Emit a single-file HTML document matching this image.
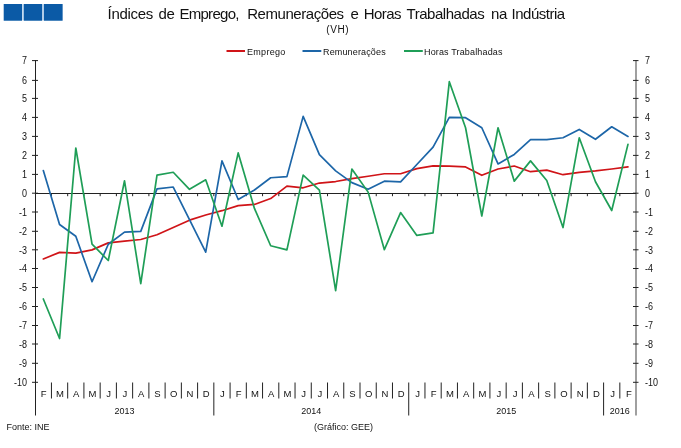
<!DOCTYPE html><html><head><meta charset="utf-8"><style>html,body{margin:0;padding:0;background:#fff;}svg{display:block;}text{font-family:"Liberation Sans",Arial,sans-serif;fill:#111;}</style></head><body>
<svg width="681" height="448" viewBox="0 0 681 448">
<rect x="4" y="4.2" width="58.4" height="16.2" fill="#c4daf0"/>
<rect x="3.7" y="4" width="18.3" height="16.7" fill="#0b5aa6"/>
<rect x="23.8" y="4" width="18.3" height="16.7" fill="#0b5aa6"/>
<rect x="43.9" y="4" width="18.7" height="16.7" fill="#0b5aa6"/>
<text y="19" font-size="15" fill="#151515"><tspan x="107.5" letter-spacing="-0.28">Índices </tspan><tspan x="158.6" letter-spacing="-0.45">de </tspan><tspan x="179.4" letter-spacing="-0.71">Emprego, </tspan><tspan x="247.2" letter-spacing="-0.44">Remunerações </tspan><tspan x="350.6" letter-spacing="-0.45">e </tspan><tspan x="363.8" letter-spacing="-0.6">Horas </tspan><tspan x="406.5" letter-spacing="-0.47">Trabalhadas </tspan><tspan x="491.0" letter-spacing="-0.45">na </tspan><tspan x="511.6" letter-spacing="-0.49">Indústria</tspan></text>
<text x="326.3" y="32.6" font-size="10" letter-spacing="0.6">(VH)</text>
<line x1="226.5" y1="51" x2="245" y2="51" stroke="#d01418" stroke-width="2"/>
<text x="247" y="55" font-size="9" letter-spacing="0.3">Emprego</text>
<line x1="302.5" y1="51" x2="321.3" y2="51" stroke="#1d66a8" stroke-width="2"/>
<text x="323" y="55" font-size="9" letter-spacing="0.15">Remunerações</text>
<line x1="404" y1="51" x2="422.8" y2="51" stroke="#1f9e57" stroke-width="2"/>
<text x="424" y="55" font-size="9" letter-spacing="0.15">Horas Trabalhadas</text>
<line x1="35.5" y1="60" x2="35.5" y2="415.5" stroke="#222" stroke-width="1"/>
<line x1="636.0" y1="60" x2="636.0" y2="415.5" stroke="#888" stroke-width="1.6"/>
<line x1="35.5" y1="193.5" x2="636.0" y2="193.5" stroke="#222" stroke-width="1"/>
<line x1="51.44" y1="193.5" x2="51.44" y2="196.2" stroke="#222" stroke-width="1"/>
<line x1="67.68" y1="193.5" x2="67.68" y2="196.2" stroke="#222" stroke-width="1"/>
<line x1="83.92" y1="193.5" x2="83.92" y2="196.2" stroke="#222" stroke-width="1"/>
<line x1="100.16" y1="193.5" x2="100.16" y2="196.2" stroke="#222" stroke-width="1"/>
<line x1="116.4" y1="193.5" x2="116.4" y2="196.2" stroke="#222" stroke-width="1"/>
<line x1="132.64" y1="193.5" x2="132.64" y2="196.2" stroke="#222" stroke-width="1"/>
<line x1="148.88" y1="193.5" x2="148.88" y2="196.2" stroke="#222" stroke-width="1"/>
<line x1="165.12" y1="193.5" x2="165.12" y2="196.2" stroke="#222" stroke-width="1"/>
<line x1="181.36" y1="193.5" x2="181.36" y2="196.2" stroke="#222" stroke-width="1"/>
<line x1="197.6" y1="193.5" x2="197.6" y2="196.2" stroke="#222" stroke-width="1"/>
<line x1="213.84" y1="193.5" x2="213.84" y2="196.2" stroke="#222" stroke-width="1"/>
<line x1="230.08" y1="193.5" x2="230.08" y2="196.2" stroke="#222" stroke-width="1"/>
<line x1="246.32" y1="193.5" x2="246.32" y2="196.2" stroke="#222" stroke-width="1"/>
<line x1="262.56" y1="193.5" x2="262.56" y2="196.2" stroke="#222" stroke-width="1"/>
<line x1="278.8" y1="193.5" x2="278.8" y2="196.2" stroke="#222" stroke-width="1"/>
<line x1="295.04" y1="193.5" x2="295.04" y2="196.2" stroke="#222" stroke-width="1"/>
<line x1="311.28" y1="193.5" x2="311.28" y2="196.2" stroke="#222" stroke-width="1"/>
<line x1="327.52" y1="193.5" x2="327.52" y2="196.2" stroke="#222" stroke-width="1"/>
<line x1="343.76" y1="193.5" x2="343.76" y2="196.2" stroke="#222" stroke-width="1"/>
<line x1="360.0" y1="193.5" x2="360.0" y2="196.2" stroke="#222" stroke-width="1"/>
<line x1="376.24" y1="193.5" x2="376.24" y2="196.2" stroke="#222" stroke-width="1"/>
<line x1="392.48" y1="193.5" x2="392.48" y2="196.2" stroke="#222" stroke-width="1"/>
<line x1="408.72" y1="193.5" x2="408.72" y2="196.2" stroke="#222" stroke-width="1"/>
<line x1="424.96" y1="193.5" x2="424.96" y2="196.2" stroke="#222" stroke-width="1"/>
<line x1="441.2" y1="193.5" x2="441.2" y2="196.2" stroke="#222" stroke-width="1"/>
<line x1="457.44" y1="193.5" x2="457.44" y2="196.2" stroke="#222" stroke-width="1"/>
<line x1="473.68" y1="193.5" x2="473.68" y2="196.2" stroke="#222" stroke-width="1"/>
<line x1="489.92" y1="193.5" x2="489.92" y2="196.2" stroke="#222" stroke-width="1"/>
<line x1="506.16" y1="193.5" x2="506.16" y2="196.2" stroke="#222" stroke-width="1"/>
<line x1="522.4" y1="193.5" x2="522.4" y2="196.2" stroke="#222" stroke-width="1"/>
<line x1="538.64" y1="193.5" x2="538.64" y2="196.2" stroke="#222" stroke-width="1"/>
<line x1="554.88" y1="193.5" x2="554.88" y2="196.2" stroke="#222" stroke-width="1"/>
<line x1="571.12" y1="193.5" x2="571.12" y2="196.2" stroke="#222" stroke-width="1"/>
<line x1="587.36" y1="193.5" x2="587.36" y2="196.2" stroke="#222" stroke-width="1"/>
<line x1="603.6" y1="193.5" x2="603.6" y2="196.2" stroke="#222" stroke-width="1"/>
<line x1="619.84" y1="193.5" x2="619.84" y2="196.2" stroke="#222" stroke-width="1"/>
<line x1="32" y1="60.6" x2="38" y2="60.6" stroke="#222" stroke-width="1"/>
<line x1="633" y1="60.6" x2="638.5" y2="60.6" stroke="#222" stroke-width="1"/>
<text transform="translate(27 64.3) scale(1 1.15)" font-size="9" text-anchor="end">7</text>
<text transform="translate(645 64.3) scale(1 1.15)" font-size="9">7</text>
<line x1="32" y1="80.4" x2="38" y2="80.4" stroke="#222" stroke-width="1"/>
<line x1="633" y1="80.4" x2="638.5" y2="80.4" stroke="#222" stroke-width="1"/>
<text transform="translate(27 84.1) scale(1 1.15)" font-size="9" text-anchor="end">6</text>
<text transform="translate(645 84.1) scale(1 1.15)" font-size="9">6</text>
<line x1="32" y1="98.4" x2="38" y2="98.4" stroke="#222" stroke-width="1"/>
<line x1="633" y1="98.4" x2="638.5" y2="98.4" stroke="#222" stroke-width="1"/>
<text transform="translate(27 102.1) scale(1 1.15)" font-size="9" text-anchor="end">5</text>
<text transform="translate(645 102.1) scale(1 1.15)" font-size="9">5</text>
<line x1="32" y1="117.4" x2="38" y2="117.4" stroke="#222" stroke-width="1"/>
<line x1="633" y1="117.4" x2="638.5" y2="117.4" stroke="#222" stroke-width="1"/>
<text transform="translate(27 121.1) scale(1 1.15)" font-size="9" text-anchor="end">4</text>
<text transform="translate(645 121.1) scale(1 1.15)" font-size="9">4</text>
<line x1="32" y1="136.4" x2="38" y2="136.4" stroke="#222" stroke-width="1"/>
<line x1="633" y1="136.4" x2="638.5" y2="136.4" stroke="#222" stroke-width="1"/>
<text transform="translate(27 140.1) scale(1 1.15)" font-size="9" text-anchor="end">3</text>
<text transform="translate(645 140.1) scale(1 1.15)" font-size="9">3</text>
<line x1="32" y1="155.4" x2="38" y2="155.4" stroke="#222" stroke-width="1"/>
<line x1="633" y1="155.4" x2="638.5" y2="155.4" stroke="#222" stroke-width="1"/>
<text transform="translate(27 159.1) scale(1 1.15)" font-size="9" text-anchor="end">2</text>
<text transform="translate(645 159.1) scale(1 1.15)" font-size="9">2</text>
<line x1="32" y1="174.4" x2="38" y2="174.4" stroke="#222" stroke-width="1"/>
<line x1="633" y1="174.4" x2="638.5" y2="174.4" stroke="#222" stroke-width="1"/>
<text transform="translate(27 178.1) scale(1 1.15)" font-size="9" text-anchor="end">1</text>
<text transform="translate(645 178.1) scale(1 1.15)" font-size="9">1</text>
<line x1="32" y1="193.2" x2="38" y2="193.2" stroke="#222" stroke-width="1"/>
<line x1="633" y1="193.2" x2="638.5" y2="193.2" stroke="#222" stroke-width="1"/>
<text transform="translate(27 196.9) scale(1 1.15)" font-size="9" text-anchor="end">0</text>
<text transform="translate(645 196.9) scale(1 1.15)" font-size="9">0</text>
<line x1="32" y1="212.0" x2="38" y2="212.0" stroke="#222" stroke-width="1"/>
<line x1="633" y1="212.0" x2="638.5" y2="212.0" stroke="#222" stroke-width="1"/>
<text transform="translate(27 215.7) scale(1 1.15)" font-size="9" text-anchor="end">-1</text>
<text transform="translate(645 215.7) scale(1 1.15)" font-size="9">-1</text>
<line x1="32" y1="231.3" x2="38" y2="231.3" stroke="#222" stroke-width="1"/>
<line x1="633" y1="231.3" x2="638.5" y2="231.3" stroke="#222" stroke-width="1"/>
<text transform="translate(27 235.0) scale(1 1.15)" font-size="9" text-anchor="end">-2</text>
<text transform="translate(645 235.0) scale(1 1.15)" font-size="9">-2</text>
<line x1="32" y1="249.8" x2="38" y2="249.8" stroke="#222" stroke-width="1"/>
<line x1="633" y1="249.8" x2="638.5" y2="249.8" stroke="#222" stroke-width="1"/>
<text transform="translate(27 253.5) scale(1 1.15)" font-size="9" text-anchor="end">-3</text>
<text transform="translate(645 253.5) scale(1 1.15)" font-size="9">-3</text>
<line x1="32" y1="268.5" x2="38" y2="268.5" stroke="#222" stroke-width="1"/>
<line x1="633" y1="268.5" x2="638.5" y2="268.5" stroke="#222" stroke-width="1"/>
<text transform="translate(27 272.2) scale(1 1.15)" font-size="9" text-anchor="end">-4</text>
<text transform="translate(645 272.2) scale(1 1.15)" font-size="9">-4</text>
<line x1="32" y1="287.5" x2="38" y2="287.5" stroke="#222" stroke-width="1"/>
<line x1="633" y1="287.5" x2="638.5" y2="287.5" stroke="#222" stroke-width="1"/>
<text transform="translate(27 291.2) scale(1 1.15)" font-size="9" text-anchor="end">-5</text>
<text transform="translate(645 291.2) scale(1 1.15)" font-size="9">-5</text>
<line x1="32" y1="306.5" x2="38" y2="306.5" stroke="#222" stroke-width="1"/>
<line x1="633" y1="306.5" x2="638.5" y2="306.5" stroke="#222" stroke-width="1"/>
<text transform="translate(27 310.2) scale(1 1.15)" font-size="9" text-anchor="end">-6</text>
<text transform="translate(645 310.2) scale(1 1.15)" font-size="9">-6</text>
<line x1="32" y1="325.5" x2="38" y2="325.5" stroke="#222" stroke-width="1"/>
<line x1="633" y1="325.5" x2="638.5" y2="325.5" stroke="#222" stroke-width="1"/>
<text transform="translate(27 329.2) scale(1 1.15)" font-size="9" text-anchor="end">-7</text>
<text transform="translate(645 329.2) scale(1 1.15)" font-size="9">-7</text>
<line x1="32" y1="344.0" x2="38" y2="344.0" stroke="#222" stroke-width="1"/>
<line x1="633" y1="344.0" x2="638.5" y2="344.0" stroke="#222" stroke-width="1"/>
<text transform="translate(27 347.7) scale(1 1.15)" font-size="9" text-anchor="end">-8</text>
<text transform="translate(645 347.7) scale(1 1.15)" font-size="9">-8</text>
<line x1="32" y1="363.3" x2="38" y2="363.3" stroke="#222" stroke-width="1"/>
<line x1="633" y1="363.3" x2="638.5" y2="363.3" stroke="#222" stroke-width="1"/>
<text transform="translate(27 367.0) scale(1 1.15)" font-size="9" text-anchor="end">-9</text>
<text transform="translate(645 367.0) scale(1 1.15)" font-size="9">-9</text>
<line x1="32" y1="382.3" x2="38" y2="382.3" stroke="#222" stroke-width="1"/>
<line x1="633" y1="382.3" x2="638.5" y2="382.3" stroke="#222" stroke-width="1"/>
<text transform="translate(27 386.0) scale(1 1.15)" font-size="9" text-anchor="end">-10</text>
<text transform="translate(645 386.0) scale(1 1.15)" font-size="9">-10</text>
<line x1="51.44" y1="382.5" x2="51.44" y2="398.5" stroke="#222" stroke-width="1"/>
<line x1="67.68" y1="382.5" x2="67.68" y2="398.5" stroke="#222" stroke-width="1"/>
<line x1="83.92" y1="382.5" x2="83.92" y2="398.5" stroke="#222" stroke-width="1"/>
<line x1="100.16" y1="382.5" x2="100.16" y2="398.5" stroke="#222" stroke-width="1"/>
<line x1="116.4" y1="382.5" x2="116.4" y2="398.5" stroke="#222" stroke-width="1"/>
<line x1="132.64" y1="382.5" x2="132.64" y2="398.5" stroke="#222" stroke-width="1"/>
<line x1="148.88" y1="382.5" x2="148.88" y2="398.5" stroke="#222" stroke-width="1"/>
<line x1="165.12" y1="382.5" x2="165.12" y2="398.5" stroke="#222" stroke-width="1"/>
<line x1="181.36" y1="382.5" x2="181.36" y2="398.5" stroke="#222" stroke-width="1"/>
<line x1="197.6" y1="382.5" x2="197.6" y2="398.5" stroke="#222" stroke-width="1"/>
<line x1="213.84" y1="382.5" x2="213.84" y2="415.5" stroke="#222" stroke-width="1"/>
<line x1="230.08" y1="382.5" x2="230.08" y2="398.5" stroke="#222" stroke-width="1"/>
<line x1="246.32" y1="382.5" x2="246.32" y2="398.5" stroke="#222" stroke-width="1"/>
<line x1="262.56" y1="382.5" x2="262.56" y2="398.5" stroke="#222" stroke-width="1"/>
<line x1="278.8" y1="382.5" x2="278.8" y2="398.5" stroke="#222" stroke-width="1"/>
<line x1="295.04" y1="382.5" x2="295.04" y2="398.5" stroke="#222" stroke-width="1"/>
<line x1="311.28" y1="382.5" x2="311.28" y2="398.5" stroke="#222" stroke-width="1"/>
<line x1="327.52" y1="382.5" x2="327.52" y2="398.5" stroke="#222" stroke-width="1"/>
<line x1="343.76" y1="382.5" x2="343.76" y2="398.5" stroke="#222" stroke-width="1"/>
<line x1="360.0" y1="382.5" x2="360.0" y2="398.5" stroke="#222" stroke-width="1"/>
<line x1="376.24" y1="382.5" x2="376.24" y2="398.5" stroke="#222" stroke-width="1"/>
<line x1="392.48" y1="382.5" x2="392.48" y2="398.5" stroke="#222" stroke-width="1"/>
<line x1="408.72" y1="382.5" x2="408.72" y2="415.5" stroke="#222" stroke-width="1"/>
<line x1="424.96" y1="382.5" x2="424.96" y2="398.5" stroke="#222" stroke-width="1"/>
<line x1="441.2" y1="382.5" x2="441.2" y2="398.5" stroke="#222" stroke-width="1"/>
<line x1="457.44" y1="382.5" x2="457.44" y2="398.5" stroke="#222" stroke-width="1"/>
<line x1="473.68" y1="382.5" x2="473.68" y2="398.5" stroke="#222" stroke-width="1"/>
<line x1="489.92" y1="382.5" x2="489.92" y2="398.5" stroke="#222" stroke-width="1"/>
<line x1="506.16" y1="382.5" x2="506.16" y2="398.5" stroke="#222" stroke-width="1"/>
<line x1="522.4" y1="382.5" x2="522.4" y2="398.5" stroke="#222" stroke-width="1"/>
<line x1="538.64" y1="382.5" x2="538.64" y2="398.5" stroke="#222" stroke-width="1"/>
<line x1="554.88" y1="382.5" x2="554.88" y2="398.5" stroke="#222" stroke-width="1"/>
<line x1="571.12" y1="382.5" x2="571.12" y2="398.5" stroke="#222" stroke-width="1"/>
<line x1="587.36" y1="382.5" x2="587.36" y2="398.5" stroke="#222" stroke-width="1"/>
<line x1="603.6" y1="382.5" x2="603.6" y2="415.5" stroke="#222" stroke-width="1"/>
<line x1="619.84" y1="382.5" x2="619.84" y2="398.5" stroke="#222" stroke-width="1"/>
<text x="43.62" y="396.8" font-size="9.5" text-anchor="middle">F</text>
<text x="59.88" y="396.8" font-size="9.5" text-anchor="middle">M</text>
<text x="76.13" y="396.8" font-size="9.5" text-anchor="middle">A</text>
<text x="92.39" y="396.8" font-size="9.5" text-anchor="middle">M</text>
<text x="108.65" y="396.8" font-size="9.5" text-anchor="middle">J</text>
<text x="124.90" y="396.8" font-size="9.5" text-anchor="middle">J</text>
<text x="141.16" y="396.8" font-size="9.5" text-anchor="middle">A</text>
<text x="157.42" y="396.8" font-size="9.5" text-anchor="middle">S</text>
<text x="173.67" y="396.8" font-size="9.5" text-anchor="middle">O</text>
<text x="189.93" y="396.8" font-size="9.5" text-anchor="middle">N</text>
<text x="206.19" y="396.8" font-size="9.5" text-anchor="middle">D</text>
<text x="222.44" y="396.8" font-size="9.5" text-anchor="middle">J</text>
<text x="238.70" y="396.8" font-size="9.5" text-anchor="middle">F</text>
<text x="254.96" y="396.8" font-size="9.5" text-anchor="middle">M</text>
<text x="271.21" y="396.8" font-size="9.5" text-anchor="middle">A</text>
<text x="287.47" y="396.8" font-size="9.5" text-anchor="middle">M</text>
<text x="303.73" y="396.8" font-size="9.5" text-anchor="middle">J</text>
<text x="319.98" y="396.8" font-size="9.5" text-anchor="middle">J</text>
<text x="336.24" y="396.8" font-size="9.5" text-anchor="middle">A</text>
<text x="352.50" y="396.8" font-size="9.5" text-anchor="middle">S</text>
<text x="368.75" y="396.8" font-size="9.5" text-anchor="middle">O</text>
<text x="385.01" y="396.8" font-size="9.5" text-anchor="middle">N</text>
<text x="401.27" y="396.8" font-size="9.5" text-anchor="middle">D</text>
<text x="417.52" y="396.8" font-size="9.5" text-anchor="middle">J</text>
<text x="433.78" y="396.8" font-size="9.5" text-anchor="middle">F</text>
<text x="450.04" y="396.8" font-size="9.5" text-anchor="middle">M</text>
<text x="466.29" y="396.8" font-size="9.5" text-anchor="middle">A</text>
<text x="482.55" y="396.8" font-size="9.5" text-anchor="middle">M</text>
<text x="498.81" y="396.8" font-size="9.5" text-anchor="middle">J</text>
<text x="515.06" y="396.8" font-size="9.5" text-anchor="middle">J</text>
<text x="531.32" y="396.8" font-size="9.5" text-anchor="middle">A</text>
<text x="547.58" y="396.8" font-size="9.5" text-anchor="middle">S</text>
<text x="563.83" y="396.8" font-size="9.5" text-anchor="middle">O</text>
<text x="580.09" y="396.8" font-size="9.5" text-anchor="middle">N</text>
<text x="596.35" y="396.8" font-size="9.5" text-anchor="middle">D</text>
<text x="612.60" y="396.8" font-size="9.5" text-anchor="middle">J</text>
<text x="628.86" y="396.8" font-size="9.5" text-anchor="middle">F</text>
<text transform="translate(124.52 414) scale(1 1.1)" font-size="9" text-anchor="middle">2013</text>
<text transform="translate(311.28 414) scale(1 1.1)" font-size="9" text-anchor="middle">2014</text>
<text transform="translate(506.16 414) scale(1 1.1)" font-size="9" text-anchor="middle">2015</text>
<text transform="translate(619.84 414) scale(1 1.1)" font-size="9" text-anchor="middle">2016</text>
<polyline points="43.32,258.99 59.56,252.36 75.80,253.12 92.04,249.90 108.28,242.89 124.52,241.19 140.76,239.48 157.00,234.75 173.24,227.55 189.48,220.16 205.72,215.05 221.96,210.69 238.20,205.58 254.44,204.44 270.68,198.57 286.92,186.07 303.16,187.78 319.40,183.04 335.64,181.53 351.88,178.69 368.12,176.22 384.36,173.76 400.60,173.76 416.84,168.65 433.08,165.81 449.32,166.19 465.56,166.94 481.80,175.28 498.04,169.03 514.28,166.00 530.52,171.68 546.76,170.16 563.00,174.71 579.24,172.44 595.48,170.92 611.72,169.03 627.96,166.94" fill="none" stroke="#d01418" stroke-width="1.7" stroke-linejoin="round" stroke-linecap="round"/>
<polyline points="43.32,170.54 59.56,224.52 75.80,236.26 92.04,281.72 108.28,244.22 124.52,232.10 140.76,231.34 157.00,188.91 173.24,187.02 189.48,219.60 205.72,252.17 221.96,160.88 238.20,199.52 254.44,190.05 270.68,177.74 286.92,176.60 303.16,116.37 319.40,154.63 335.64,170.92 351.88,182.66 368.12,189.29 384.36,181.15 400.60,181.91 416.84,164.48 433.08,147.06 449.32,117.32 465.56,117.70 481.80,127.74 498.04,163.91 514.28,154.44 530.52,139.67 546.76,139.67 563.00,137.78 579.24,129.44 595.48,139.29 611.72,126.79 627.96,136.45" fill="none" stroke="#1d66a8" stroke-width="1.7" stroke-linejoin="round" stroke-linecap="round"/>
<polyline points="43.32,298.95 59.56,338.54 75.80,148.00 92.04,244.22 108.28,260.51 124.52,180.77 140.76,283.61 157.00,175.09 173.24,172.25 189.48,189.29 205.72,179.82 221.96,226.23 238.20,152.93 254.44,208.42 270.68,245.73 286.92,249.90 303.16,175.09 319.40,190.05 335.64,290.62 351.88,169.03 368.12,192.13 384.36,249.71 400.60,212.59 416.84,235.41 433.08,232.85 449.32,81.71 465.56,127.74 481.80,216.00 498.04,127.74 514.28,181.15 530.52,160.88 546.76,180.58 563.00,227.55 579.24,137.78 595.48,181.72 611.72,210.50 627.96,144.40" fill="none" stroke="#1f9e57" stroke-width="1.7" stroke-linejoin="round" stroke-linecap="round"/>
<text x="6.5" y="430" font-size="9">Fonte: INE</text>
<text x="314" y="430" font-size="9">(Gráfico: GEE)</text>
</svg></body></html>
